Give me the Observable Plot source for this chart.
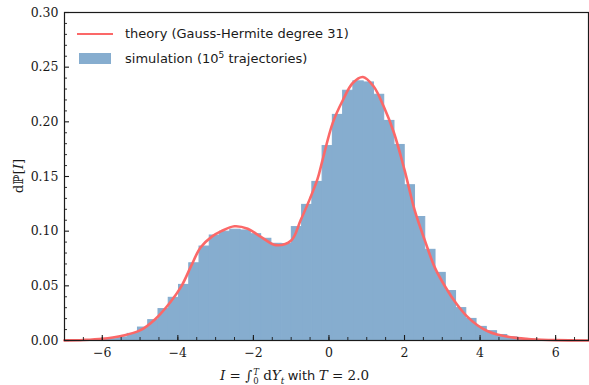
<!DOCTYPE html>
<html>
<head>
<meta charset="utf-8">
<script src="https://cdn.jsdelivr.net/npm/d3@7"></script>
<script src="https://cdn.jsdelivr.net/npm/@observablehq/plot@0.6"></script>
<style>
  html, body { margin: 0; padding: 0; background: #fff; }
  #wrap { position: relative; width: 589px; height: 385px; overflow: hidden; }
  .leg { position: absolute; font-family: "DejaVu Sans", sans-serif; font-size: 13px; line-height: 16px; color: #1a1a1a; white-space: nowrap; }
  .serif { font-family: "DejaVu Serif", serif; }
  #xlabel { position: absolute; left: 0; width: 589px; top: 367px; text-align: center; font-size: 13.5px; color: #1a1a1a; white-space: nowrap; }
  #ylabel { position: absolute; left: 18px; top: 176px; transform: translate(-50%, -50%) rotate(-90deg); font-size: 13.5px; color: #1a1a1a; white-space: nowrap; }
</style>
</head>
<body>
<div id="wrap"></div>
<script>
// ---- data ----
const binEdges = [-6.140, -5.869, -5.597, -5.326, -5.054, -4.783, -4.511, -4.240, -3.968, -3.697,
  -3.425, -3.154, -2.882, -2.611, -2.339, -2.068, -1.796, -1.525, -1.253, -0.982,
  -0.710, -0.439, -0.167, 0.104, 0.376, 0.647, 0.919, 1.190, 1.462, 1.733,
  2.005, 2.277, 2.548, 2.820, 3.091, 3.363, 3.634, 3.906, 4.177, 4.449,
  4.720, 4.992, 5.263, 5.535, 5.806];
const simDensity = [0.0004, 0.0012, 0.0028, 0.0060, 0.0118, 0.0186, 0.0287, 0.0390, 0.0508, 0.0706,
  0.0859, 0.0960, 0.0995, 0.1013, 0.1006, 0.0972, 0.0930, 0.0884, 0.0882, 0.1037,
  0.1240, 0.1450, 0.1778, 0.2063, 0.2284, 0.2370, 0.2360, 0.2247, 0.2008, 0.1788,
  0.1420, 0.1129, 0.0829, 0.0618, 0.0452, 0.0296, 0.0197, 0.0124, 0.0085, 0.0050,
  0.0028, 0.0014, 0.0006, 0.0002];
const theoryX = [-7, -6.5, -6, -5.5, -5, -4.6, -4.2, -3.9, -3.65, -3.4, -3.1, -2.85, -2.5, -2.15, -1.8,
  -1.4, -1.0, -0.75, -0.5, -0.3, -0.17, 0.1, 0.37, 0.63, 0.9, 1.18, 1.45, 1.72, 2.0, 2.27,
  2.54, 2.8, 3.09, 3.38, 3.64, 3.93, 4.19, 4.45, 4.9, 5.35, 6, 6.87];
const theoryY = [0.0001, 0.0005, 0.0016, 0.0042, 0.0092, 0.0195, 0.0350, 0.0500, 0.0680, 0.0850, 0.0950, 0.1000, 0.1045, 0.1022, 0.0948,
  0.0872, 0.0915, 0.1100, 0.1300, 0.1480, 0.1650, 0.1990, 0.2200, 0.2355, 0.2410, 0.2325, 0.2140, 0.1900, 0.1560, 0.1190,
  0.0914, 0.0669, 0.0485, 0.0333, 0.0225, 0.0140, 0.0087, 0.0055, 0.0026, 0.0012, 0.0003, 0.0000];
const xTicks = [-6, -4, -2, 0, 2, 4, 6];
const xMinor = [-7, -6.5, -6, -5.5, -5, -4.5, -4, -3.5, -3, -2.5, -2, -1.5, -1, -0.5, 0, 0.5, 1, 1.5, 2, 2.5, 3, 3.5, 4, 4.5, 5, 5.5, 6, 6.5];
const yTicks = [0, 0.05, 0.10, 0.15, 0.20, 0.25, 0.30];
const yMinor = [0.01, 0.02, 0.03, 0.04, 0.06, 0.07, 0.08, 0.09, 0.11, 0.12, 0.13, 0.14, 0.16, 0.17, 0.18, 0.19, 0.21, 0.22, 0.23, 0.24, 0.26, 0.27, 0.28, 0.29];

const bins = simDensity.map((h, i) => ({x0: binEdges[i], x1: binEdges[i + 1], h}));
const theory = theoryX.map((x, i) => ({x, y: theoryY[i]}));

const barColor = "#86adcf";
const lineColor = "#fb6868";
const serif = "DejaVu Serif";

const chart = Plot.plot({
  width: 589,
  height: 385,
  marginLeft: 64,
  marginRight: 1,
  marginTop: 12,
  marginBottom: 45,
  style: {background: "white", color: "#1a1a1a"},
  x: {domain: [-7, 6.87]},
  y: {domain: [0, 0.30]},
  marks: [
    Plot.rectY(bins, {x1: "x0", x2: "x1", y: "h", fill: barColor, stroke: barColor, strokeWidth: 1.1}),
    Plot.line(theory, {x: "x", y: "y", stroke: lineColor, strokeWidth: 2.6, curve: "catmull-rom"}),
    // inward minor/major ticks
    Plot.axisX({ticks: xMinor, tickSize: 3, dy: -3, tickFormat: () => "", label: null, stroke: "#1a1a1a", strokeWidth: 0.9}),
    Plot.axisX({ticks: xTicks, tickSize: 5, dy: -5, tickFormat: () => "", label: null, stroke: "#1a1a1a", strokeWidth: 1.1}),
    Plot.axisY({ticks: yMinor, tickSize: 3, dx: 3, tickFormat: () => "", label: null, stroke: "#1a1a1a", strokeWidth: 0.9}),
    Plot.axisY({ticks: yTicks, tickSize: 5, dx: 5, tickFormat: () => "", label: null, stroke: "#1a1a1a", strokeWidth: 1.1}),
    // tick labels
    Plot.axisX({ticks: xTicks, tickSize: 0, tickPadding: 8, label: null, fontFamily: serif, fontSize: 12.5}),
    Plot.axisY({ticks: yTicks, tickSize: 0, tickPadding: 6, tickFormat: d3.format(".2f"), label: null, fontFamily: serif, fontSize: 12.5}),
    Plot.frame({stroke: "#1a1a1a", strokeWidth: 1.2})
  ]
});

const wrap = document.getElementById("wrap");
wrap.appendChild(chart);

// legend
const legendItems = [
  {kind: "line", html: "theory (Gauss-Hermite degree 31)", top: 26},
  {kind: "patch", html: "simulation (10<sup style=\"font-size:9px;vertical-align:5px;line-height:0\">5</sup> trajectories)", top: 50.5}
];
for (const item of legendItems) {
  const sw = document.createElement("div");
  sw.style.position = "absolute";
  if (item.kind === "line") {
    Object.assign(sw.style, {left: "77px", top: (item.top + 6.7) + "px", width: "36px", height: "2.6px", background: lineColor});
  } else {
    Object.assign(sw.style, {left: "79px", top: (item.top + 2.5) + "px", width: "32px", height: "11px", background: barColor});
  }
  wrap.appendChild(sw);
  const t = document.createElement("div");
  t.className = "leg";
  t.style.left = "125px";
  t.style.top = item.top + "px";
  t.innerHTML = item.html;
  wrap.appendChild(t);
}

// axis labels
const xl = document.createElement("div");
xl.id = "xlabel";
xl.innerHTML = '<span class="serif"><i>I</i> = ∫<span style="display:inline-block;vertical-align:-4px;line-height:9px;font-size:8.5px;text-align:left;margin-left:1px"><i style="display:block">T</i><span style="display:block">0</span></span> d<i>Y</i><sub style="font-size:9px;line-height:0"><i>t</i></sub></span> <span style="font-family:\'DejaVu Sans\',sans-serif;font-size:13px">with</span> <span class="serif"><i>T</i> = 2.0</span>';
wrap.appendChild(xl);

const yl = document.createElement("div");
yl.id = "ylabel";
yl.className = "serif";
yl.innerHTML = 'dℙ[<i>I</i>]';
wrap.appendChild(yl);
</script>
</body>
</html>
